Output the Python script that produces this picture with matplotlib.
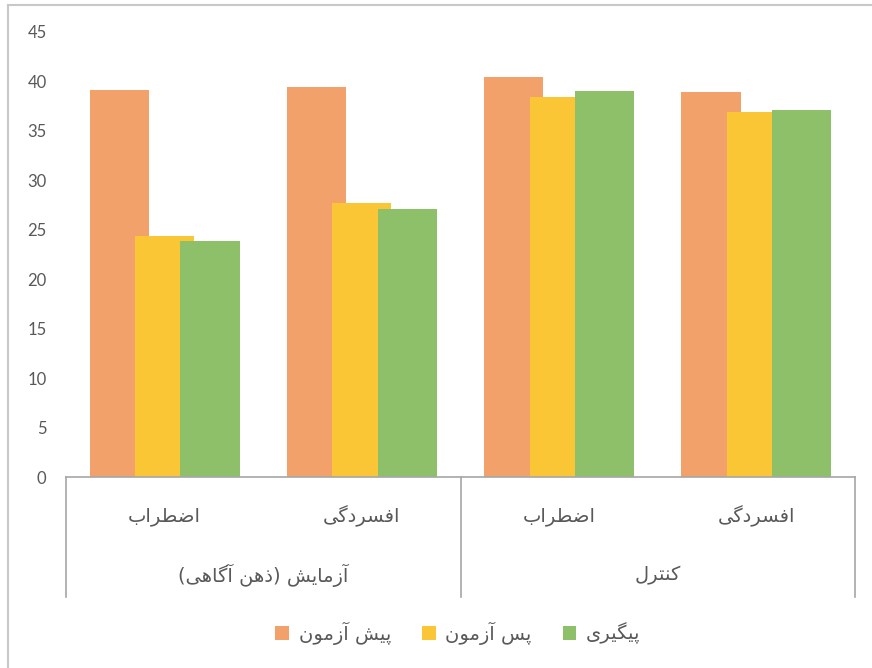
import matplotlib
matplotlib.use("Agg")
import matplotlib.pyplot as plt
import numpy as np

# Persian text needs shaping by hand (no arabic_reshaper here)
FORMS = {
    'ا': ('\uFE8D', '\uFE8E'), 'آ': ('\uFE81', '\uFE82'),
    'د': ('\uFEA9', '\uFEAA'), 'ذ': ('\uFEAB', '\uFEAC'),
    'ر': ('\uFEAD', '\uFEAE'), 'ز': ('\uFEAF', '\uFEB0'),
    'و': ('\uFEED', '\uFEEE'),
    'ب': ('\uFE8F', '\uFE90', '\uFE91', '\uFE92'),
    'پ': ('\uFB56', '\uFB57', '\uFB58', '\uFB59'),
    'ت': ('\uFE95', '\uFE96', '\uFE97', '\uFE98'),
    'س': ('\uFEB1', '\uFEB2', '\uFEB3', '\uFEB4'),
    'ش': ('\uFEB5', '\uFEB6', '\uFEB7', '\uFEB8'),
    'ض': ('\uFEBD', '\uFEBE', '\uFEBF', '\uFEC0'),
    'ط': ('\uFEC1', '\uFEC2', '\uFEC3', '\uFEC4'),
    'ف': ('\uFED1', '\uFED2', '\uFED3', '\uFED4'),
    'ک': ('\uFB8E', '\uFB8F', '\uFB90', '\uFB91'),
    'گ': ('\uFB92', '\uFB93', '\uFB94', '\uFB95'),
    'ل': ('\uFEDD', '\uFEDE', '\uFEDF', '\uFEE0'),
    'م': ('\uFEE1', '\uFEE2', '\uFEE3', '\uFEE4'),
    'ن': ('\uFEE5', '\uFEE6', '\uFEE7', '\uFEE8'),
    'ه': ('\uFEE9', '\uFEEA', '\uFEEB', '\uFEEC'),
    'ی': ('\uFBFC', '\uFBFD', '\uFBFE', '\uFBFF'),
}


def fa(s):
    out = []
    for i, c in enumerate(s):
        if c not in FORMS:
            out.append(c)
            continue
        f = FORMS[c]
        prev = s[i - 1] if i > 0 else ''
        nxt = s[i + 1] if i + 1 < len(s) else ''
        j_prev = prev in FORMS and len(FORMS[prev]) == 4
        j_next = len(f) == 4 and nxt in FORMS
        if j_prev and j_next:
            out.append(f[3])
        elif j_prev:
            out.append(f[1])
        elif j_next:
            out.append(f[2])
        else:
            out.append(f[0])
    vis = ''.join(reversed(out))
    return vis.translate(str.maketrans('()', ')('))


groups = ["آزمایش (ذهن آگاهی)", "کنترل"]
subcats = ["اضطراب", "افسردگی", "اضطراب", "افسردگی"]
series = ["پیش آزمون", "پس آزمون", "پیگیری"]
pre_test = [39.1, 39.4, 40.5, 38.9]
post_test = [24.4, 27.7, 38.4, 36.9]
follow_up = [23.9, 27.1, 39.0, 37.1]
colors = ["#F2A16B", "#FBC635", "#8EBF69"]

gray = "#595959"
line_gray = "#A6A6A6"

fig = plt.figure(figsize=(8.72, 6.68), dpi=100)
ax = fig.add_axes([66 / 872, 1 - 477 / 668, 789 / 872, 445 / 668])

x = np.arange(len(subcats))
width = 0.30
offsets = [-0.23, 0.0, 0.23]
for vals, off, col, name in zip([pre_test, post_test, follow_up], offsets, colors, series):
    ax.bar(x + off, vals, width, color=col, label=fa(name), zorder=2)

ax.set_xlim(-0.5, 3.5)
ax.set_ylim(0, 45)
ax.set_yticks(np.arange(0, 46, 5))
ax.tick_params(axis='y', length=0, pad=14, labelcolor=gray, labelsize=12)
for lab in ax.get_yticklabels():
    lab.set_family("Lato")
ax.set_xticks([])
for side in ["top", "right", "left"]:
    ax.spines[side].set_visible(False)
ax.spines["bottom"].set_color(line_gray)
ax.spines["bottom"].set_linewidth(1.2)

# multi-level category axis
trans = ax.get_xaxis_transform()
for xb in [-0.5, 1.5, 3.5]:
    ax.plot([xb, xb], [0, -0.27], transform=trans, color=line_gray, lw=1.2, clip_on=False)
for xi, name in zip(x, subcats):
    ax.text(xi, -0.088, fa(name), transform=trans, ha='center', va='center',
            fontsize=14, color=gray, family="DejaVu Sans")
for gi, name in enumerate(groups):
    ax.text(gi * 2 + 0.5, -0.222, fa(name), transform=trans, ha='center', va='center',
            fontsize=14, color=gray, family="DejaVu Sans")

fig.legend(loc='center', bbox_to_anchor=(458 / 872, 1 - 633 / 668), ncol=3,
           frameon=False, handlelength=0.7, handleheight=0.7, handletextpad=0.5,
           columnspacing=1.6, prop={'family': 'DejaVu Sans', 'size': 14},
           labelcolor=gray)

# chart outer border (top and left visible)
fig.add_artist(plt.Line2D([8 / 872, 1], [1 - 5 / 668, 1 - 5 / 668], color="#C8C8C8", lw=1.5))
fig.add_artist(plt.Line2D([8 / 872, 8 / 872], [0, 1 - 5 / 668], color="#C8C8C8", lw=1.5))

fig.savefig("out.png", dpi=100, facecolor="white")
